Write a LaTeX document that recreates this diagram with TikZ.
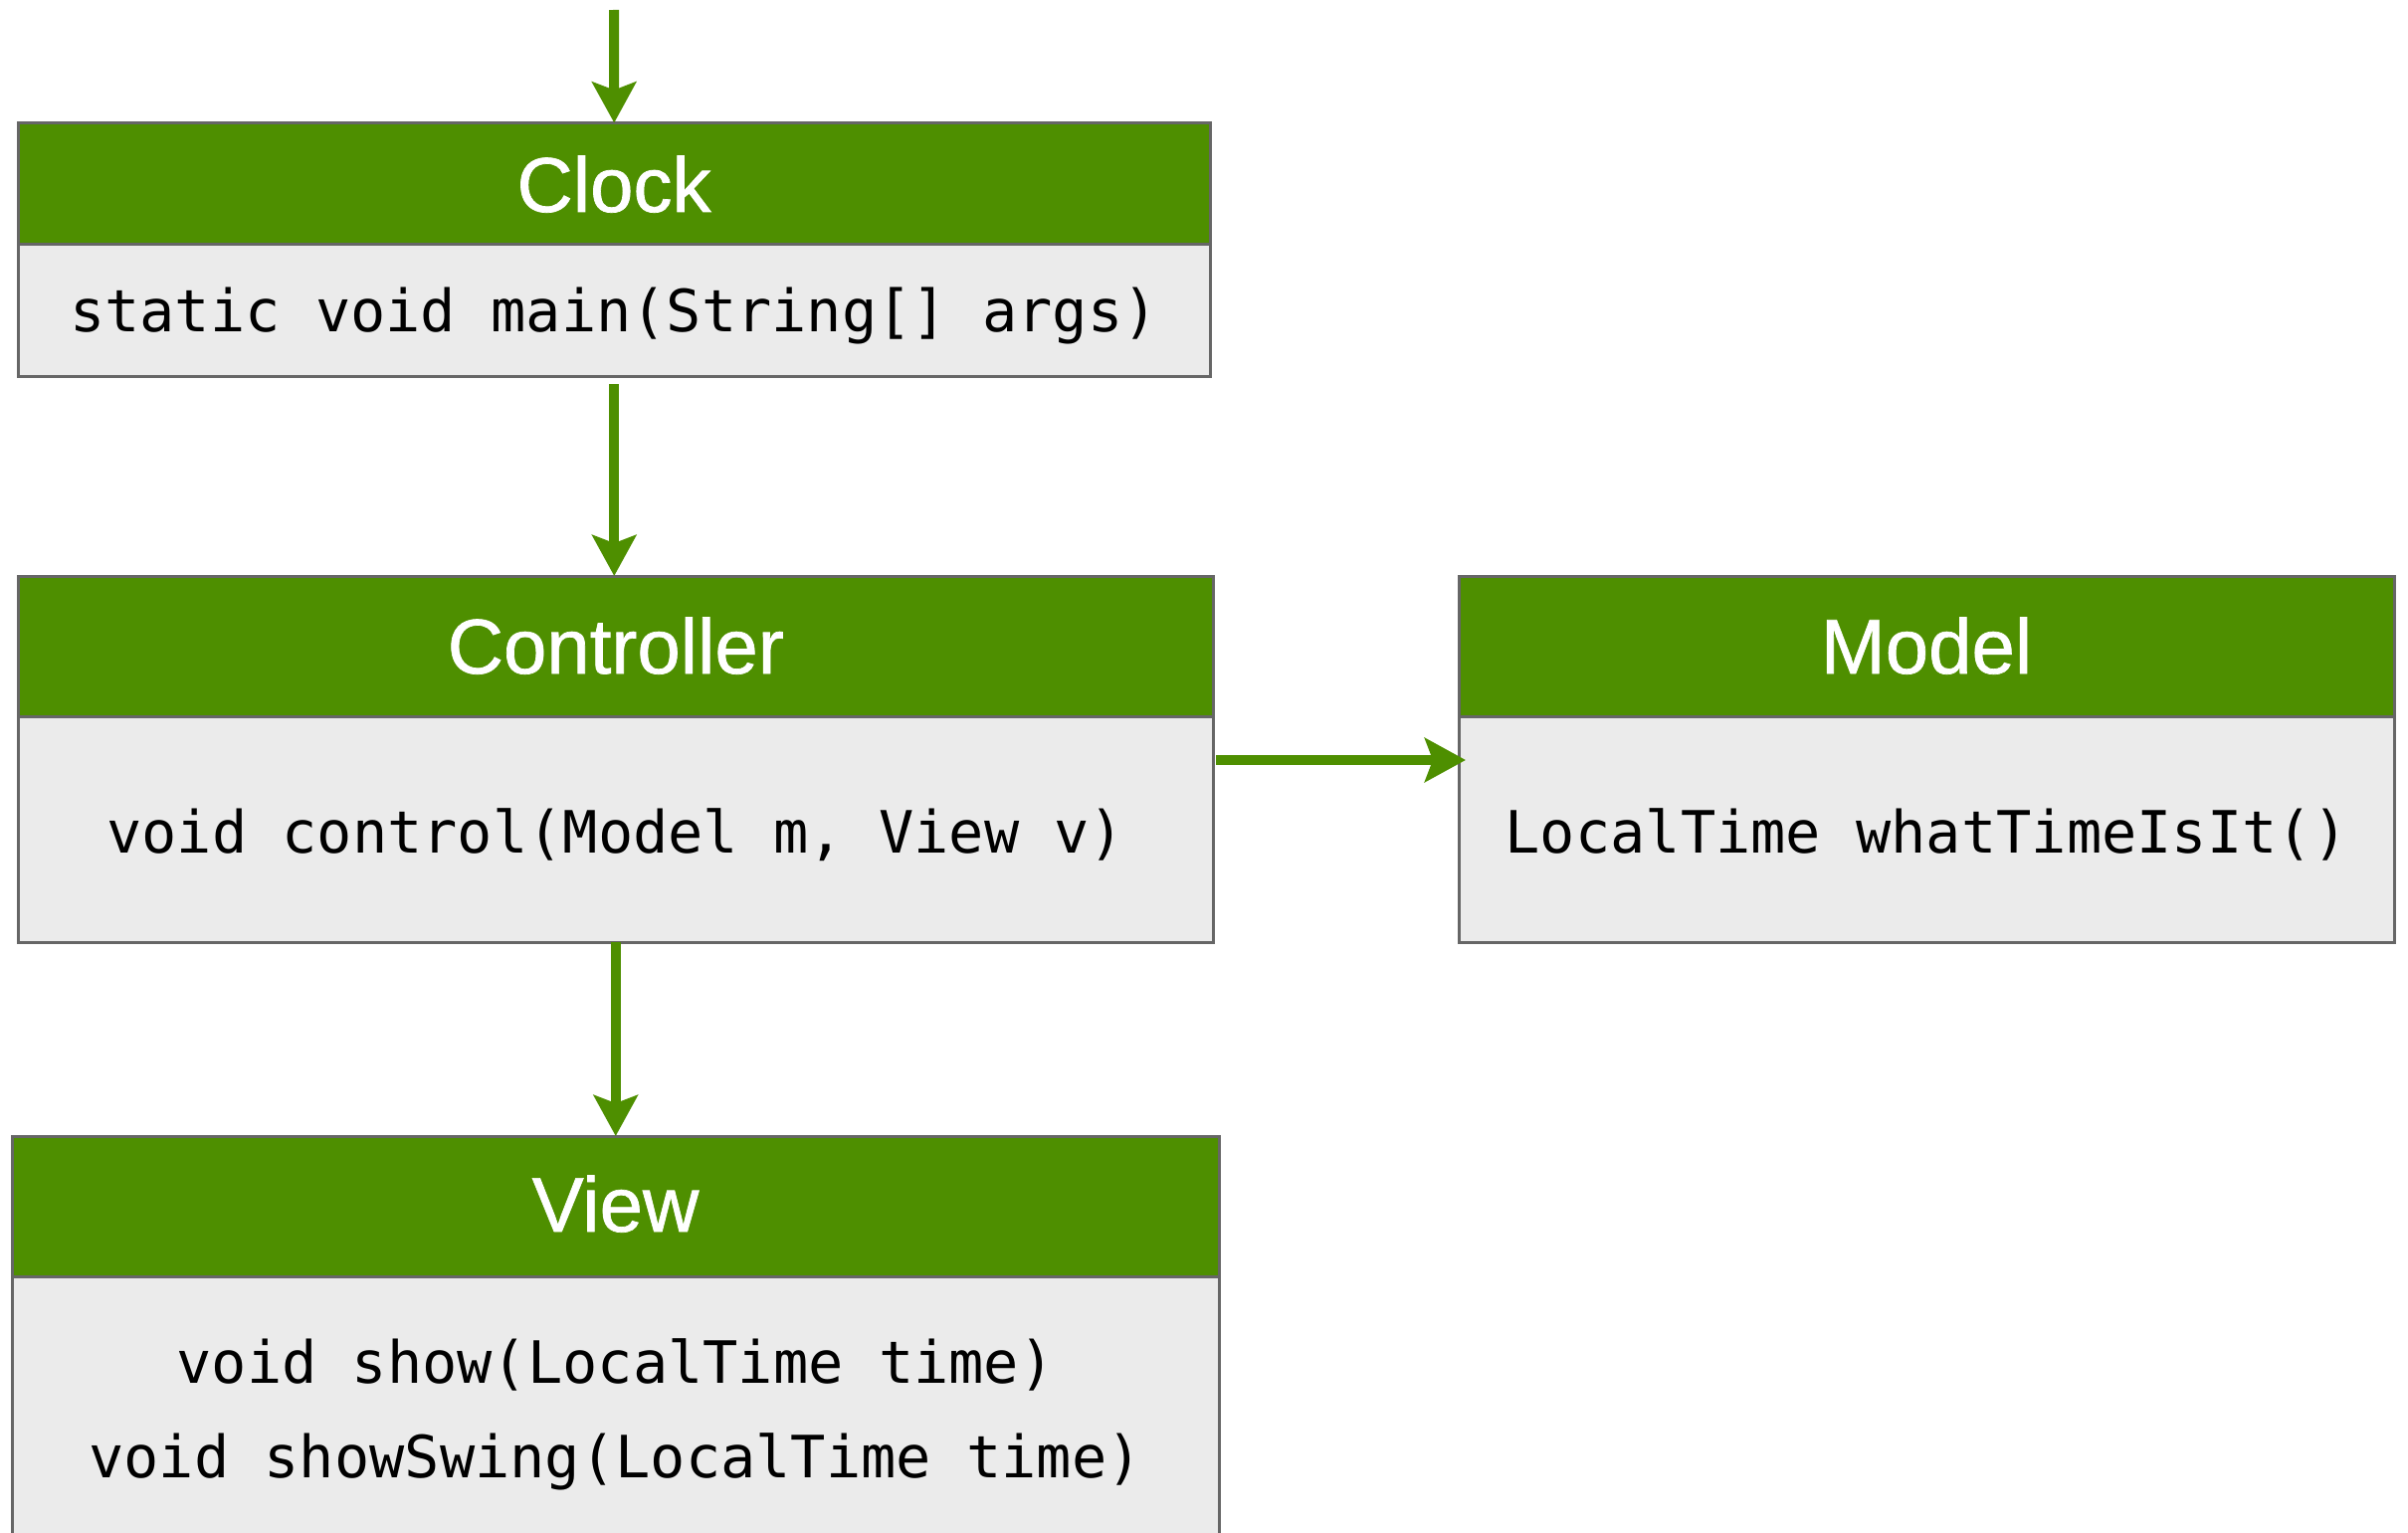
\documentclass[tikz,border=0pt]{standalone}
\usepackage{fontspec}
\setmainfont{Liberation Sans}
\newfontfamily\titlefont{Liberation Sans}[UprightFeatures={FakeBold=0.9}]
\newfontfamily\codefont{DejaVu Sans Mono}
\usetikzlibrary{arrows.meta,calc}
\definecolor{moss}{RGB}{78,143,0}
\definecolor{bodygray}{RGB}{235,235,235}
\definecolor{edgegray}{RGB}{102,102,102}

\begin{document}
\begin{tikzpicture}[x=0.5pt,y=-0.5pt,
  boxpart/.style={draw=edgegray, line width=1.5pt, inner sep=0pt, outer sep=0pt, anchor=north west},
  header/.style={boxpart, fill=moss},
  body/.style={boxpart, fill=bodygray},
  title/.style={anchor=base, text=white, inner sep=0pt, font=\titlefont\fontsize{39}{46}\selectfont},
  code/.style={anchor=base, inner sep=0pt, font=\codefont\fontsize{29.3}{35}\selectfont},
  flow/.style={draw=moss, line width=5pt, -{Stealth[length=20.5pt,width=22pt,inset=4pt]}}
]
\useasboundingbox[fill=white] (0,0) rectangle (2420,1541);

% Clock
\node[header, minimum width=598.75pt, minimum height=60.75pt] (clockH) at (18.5,123.5) {};
\node[body, minimum width=598.75pt, minimum height=66.5pt] (clockB) at (18.5,245) {};
\node[title] (clockT) at (617,213) {Clock};
\node[code] (clockM) at (617,333) {static void main(String[] args)};

% Controller
\node[header, minimum width=600.25pt, minimum height=70.5pt] (ctrlH) at (18.5,579) {};
\node[body, minimum width=600.25pt, minimum height=113.5pt] (ctrlB) at (18.5,720) {};
\node[title] (ctrlT) at (618.75,677) {Controller};
\node[code] (ctrlM) at (618.75,857) {void control(Model m, View v)};

% Model
\node[header, minimum width=470pt, minimum height=70.5pt] (modelH) at (1466,579) {};
\node[body, minimum width=470pt, minimum height=113.5pt] (modelB) at (1466,720) {};
\node[title] (modelT) at (1936,677) {Model};
\node[code] (modelM) at (1936,857) {LocalTime whatTimeIsIt()};

% View
\node[header, minimum width=606.5pt, minimum height=70.5pt] (viewH) at (12,1142) {};
\node[body, minimum width=606.5pt, minimum height=160pt] (viewB) at (12,1283) {};
\node[title] (viewT) at (618.5,1238) {View};
\node[code] (viewM1) at (618.5,1390) {void show(LocalTime time)};
\node[code] (viewM2) at (618.5,1485) {void showSwing(LocalTime time)};

% Connectors
\coordinate (entry) at (617,10);
\draw[flow] (entry) -- (clockH.north);
\draw[flow, shorten <=4pt] (clockB.south) -- (clockB.south |- ctrlH.north);
\draw[flow] (ctrlB.south) -- (ctrlB.south |- viewH.north);
\draw[flow, shorten <=1.5pt] ([yshift=-22pt]ctrlB.north east) -- ([yshift=-22pt,xshift=3.5pt]modelB.north west);
\end{tikzpicture}
\end{document}
